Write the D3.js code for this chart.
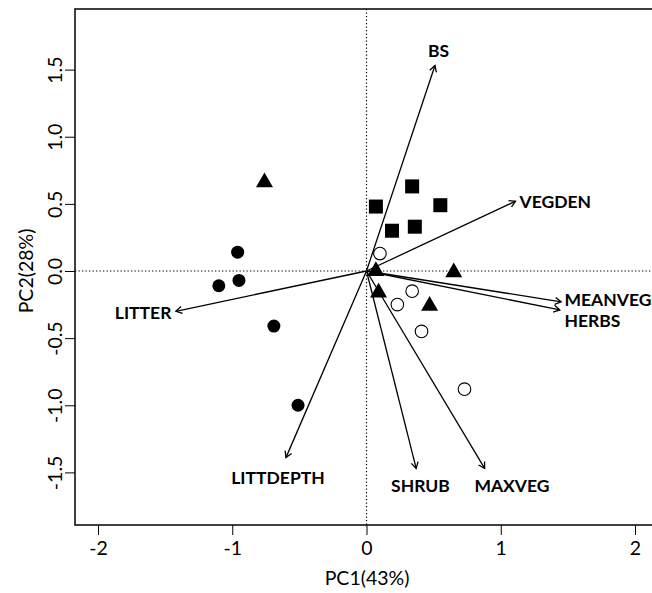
<!DOCTYPE html>
<html><head><meta charset="utf-8">
<script src="https://cdn.jsdelivr.net/npm/d3@7"></script>
<style>body{margin:0;background:#fff}</style>
</head><body>
<svg id="c" width="652" height="593"></svg>
<script>
// Sample scores by group
const groupA_tri = [[-0.76,0.66],[0.07,0.0],[0.09,-0.16],[0.65,-0.01],[0.47,-0.26]];
const groupB_dot = [[-0.96,0.14],[-1.10,-0.11],[-0.95,-0.07],[-0.69,-0.41],[-0.51,-1.00]];
const groupC_sq  = [[0.34,0.63],[0.07,0.48],[0.55,0.49],[0.19,0.30],[0.36,0.33]];
const groupD_open= [[0.10,0.13],[0.34,-0.15],[0.23,-0.25],[0.41,-0.45],[0.73,-0.88]];
// Variable loadings (arrow tips)
const varNames = ["BS","VEGDEN","MEANVEG","HERBS","LITTER","LITTDEPTH","SHRUB","MAXVEG"];
const varPC1   = [0.51,1.11,1.45,1.44,-1.42,-0.60,0.37,0.88];
const varPC2   = [1.53,0.52,-0.23,-0.29,-0.30,-1.39,-1.47,-1.47];
const labPC1   = [0.536,1.14,1.475,1.475,-1.453,-0.659,0.402,0.804];
const labPC2   = [1.594,0.469,-0.261,-0.417,-0.358,-1.587,-1.646,-1.646];
const labAnchor= ["middle","start","start","start","end","middle","middle","start"];
const xTicks = [-2,-1,0,1,2];
const yTicks = [-1.5,-1.0,-0.5,0.0,0.5,1.0,1.5];

const svg = d3.select("#c");
const x = d3.scaleLinear().domain([-2,2]).range([98,635]);
const y = d3.scaleLinear().domain([-1.5,1.5]).range([472.4,69.6]);
const L=75, T=9, R=670, B=525;
const font = "Lato, 'Open Sans', sans-serif";
const hy = s => s.replace("\u2212","-");

svg.append("defs").append("clipPath").attr("id","clip")
  .append("rect").attr("x",L).attr("y",T).attr("width",R-L).attr("height",B-T);

// box
svg.append("rect").attr("x",L).attr("y",T).attr("width",R-L).attr("height",B-T)
  .attr("fill","none").attr("stroke","#000").attr("stroke-width",1.5);

// bottom axis
const xa = svg.append("g").attr("transform",`translate(0,${B})`)
  .call(d3.axisBottom(x).tickValues(xTicks).tickSize(10).tickPadding(6).tickFormat(d=>hy(d3.format("d")(d))));
xa.select(".domain").remove();
xa.selectAll("line").attr("stroke","#000");
xa.selectAll("text").attr("font-family",font).attr("font-size",19.5).attr("fill","#000");

// left axis
const ya = svg.append("g").attr("transform",`translate(${L},0)`)
  .call(d3.axisLeft(y).tickValues(yTicks).tickSize(10).tickFormat(d3.format(".1f")));
ya.select(".domain").remove();
ya.selectAll("line").attr("stroke","#000");
ya.selectAll("text").remove();
ya.selectAll(".tick").append("text")
  .attr("transform","translate(-13,0) rotate(-90)")
  .attr("text-anchor","middle").attr("font-family",font).attr("font-size",19.5).attr("fill","#000")
  .text(d=>hy(d3.format(".1f")(d)));

// axis titles
svg.append("text").attr("x",367).attr("y",585).attr("text-anchor","middle")
  .attr("font-family",font).attr("font-size",19.5).text("PC1(43%)");
svg.append("text").attr("transform","translate(33,271) rotate(-90)").attr("text-anchor","middle")
  .attr("font-family",font).attr("font-size",19.5).text("PC2(28%)");

const g = svg.append("g").attr("clip-path","url(#clip)");
// dotted zero lines
g.append("line").attr("x1",L).attr("x2",R).attr("y1",y(0)).attr("y2",y(0))
  .attr("stroke","#000").attr("stroke-width",1.2).attr("stroke-dasharray","1.3,2.2");
g.append("line").attr("x1",x(0)).attr("x2",x(0)).attr("y1",T).attr("y2",B)
  .attr("stroke","#000").attr("stroke-width",1.2).attr("stroke-dasharray","1.3,2.2");

// arrows
varNames.forEach((n,i)=>{
  const x0=x(0), y0=y(0), x1=x(varPC1[i]), y1=y(varPC2[i]);
  g.append("line").attr("x1",x0).attr("y1",y0).attr("x2",x1).attr("y2",y1)
    .attr("stroke","#000").attr("stroke-width",1.3);
  const a=Math.atan2(y1-y0,x1-x0), len=7, sp=Math.PI/6;
  const p = [[x1-len*Math.cos(a-sp), y1-len*Math.sin(a-sp)],[x1,y1],[x1-len*Math.cos(a+sp), y1-len*Math.sin(a+sp)]];
  g.append("path").attr("d",d3.line()(p)).attr("fill","none").attr("stroke","#000").attr("stroke-width",1.3);
  svg.append("text").attr("x",x(labPC1[i])).attr("y",y(labPC2[i])).attr("text-anchor",labAnchor[i])
    .attr("font-family",font).attr("font-weight","bold").attr("font-size",17.5).text(n);
});

// points
g.selectAll(".tri").data(groupA_tri).join("path")
  .attr("transform",d=>`translate(${x(d[0])},${y(d[1])})`)
  .attr("d",d3.symbol(d3.symbolTriangle).size(125)).attr("fill","#000");
g.selectAll(".dot").data(groupB_dot).join("circle")
  .attr("cx",d=>x(d[0])).attr("cy",d=>y(d[1])).attr("r",6.5).attr("fill","#000");
g.selectAll(".sq").data(groupC_sq).join("rect")
  .attr("x",d=>x(d[0])-7).attr("y",d=>y(d[1])-7).attr("width",14).attr("height",14).attr("fill","#000");
g.selectAll(".open").data(groupD_open).join("circle")
  .attr("cx",d=>x(d[0])).attr("cy",d=>y(d[1])).attr("r",6.3).attr("fill","#fff")
  .attr("stroke","#000").attr("stroke-width",1.1);
</script>
</body></html>
